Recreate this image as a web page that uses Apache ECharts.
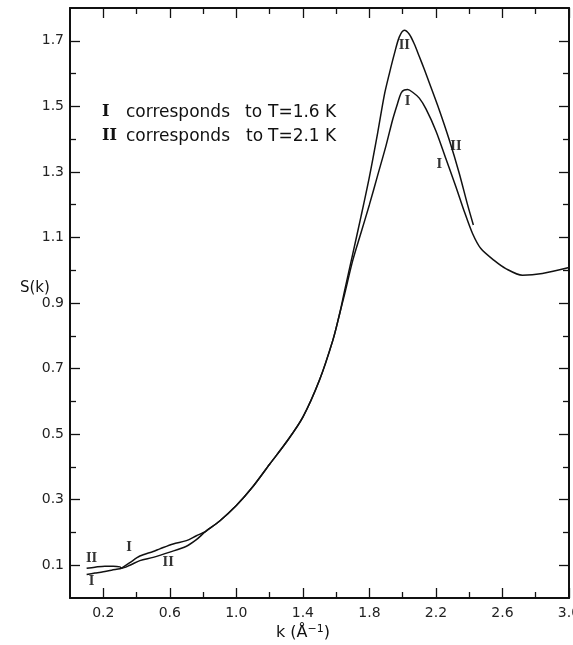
<!DOCTYPE html>
<html>
<head>
<meta charset="utf-8">
<script src="https://cdn.jsdelivr.net/npm/echarts@6/dist/echarts.min.js"></script>
<style>
  html, body { margin: 0; padding: 0; background: #fff; }
  #chart { width: 573px; height: 645px; }
</style>
</head>
<body>
<div id="chart"></div>
<script>
// curve I : T = 1.6 K
const kI = [0.10, 0.15, 0.20, 0.25, 0.30, 0.31, 0.36, 0.42, 0.50, 0.54, 0.62, 0.70, 0.76, 0.80,
  0.82, 0.90, 1.00, 1.10, 1.20, 1.30, 1.40, 1.50, 1.58, 1.62,
  1.65, 1.70, 1.75, 1.80, 1.85, 1.90, 1.94, 1.97, 1.99, 2.01, 2.03, 2.06, 2.10, 2.14, 2.20,
  2.26, 2.32, 2.37, 2.42, 2.47, 2.55, 2.62, 2.72, 2.84, 3.00];
const sI = [0.072, 0.076, 0.080, 0.085, 0.089, 0.091, 0.108, 0.128, 0.142, 0.150, 0.165, 0.175, 0.190, 0.199,
  0.205, 0.235, 0.282, 0.340, 0.408, 0.475, 0.552, 0.665, 0.786, 0.865,
  0.925, 1.030, 1.115, 1.200, 1.290, 1.380, 1.460, 1.510, 1.540, 1.550, 1.551, 1.543, 1.525, 1.492, 1.425,
  1.340, 1.255, 1.180, 1.112, 1.066, 1.030, 1.005, 0.985, 0.990, 1.008];

// curve II : T = 2.1 K
const kII = [0.10, 0.15, 0.21, 0.26, 0.30, 0.31, 0.36, 0.42, 0.50, 0.60, 0.70, 0.76, 0.80,
  0.82, 0.90, 1.00, 1.10, 1.20, 1.30, 1.40, 1.50, 1.58, 1.62,
  1.65, 1.70, 1.75, 1.80, 1.85, 1.89, 1.92, 1.95, 1.98, 2.01, 2.04, 2.07, 2.10, 2.13, 2.16,
  2.22, 2.28, 2.34, 2.39, 2.425];
const sII = [0.091, 0.094, 0.097, 0.097, 0.095, 0.091, 0.100, 0.114, 0.124, 0.140, 0.158, 0.178, 0.196,
  0.205, 0.235, 0.282, 0.340, 0.408, 0.475, 0.552, 0.665, 0.786, 0.865,
  0.935, 1.050, 1.165, 1.285, 1.420, 1.535, 1.600, 1.660, 1.712, 1.732, 1.720, 1.690, 1.652, 1.613, 1.572,
  1.489, 1.398, 1.296, 1.200, 1.138];

// tick values
const xTickLong = [0.2, 0.6, 1.0, 1.4, 1.8, 2.2, 2.6, 3.0];
const xTickShort = [0.4, 0.8, 1.2, 1.6, 2.0, 2.4, 2.8];
const yTickLong = [0.1, 0.3, 0.5, 0.7, 0.9, 1.1, 1.3, 1.5, 1.7];
const yTickShort = [0.2, 0.4, 0.6, 0.8, 1.0, 1.2, 1.4, 1.6];

// roman numeral labels on the curves
const curveNames = ['II', 'I', 'II', 'I', 'II', 'I', 'I', 'II'];
const curveNameK = [2.01, 2.03, 2.32, 2.22, 0.13, 0.13, 0.355, 0.59];
const curveNameS = [1.683, 1.515, 1.376, 1.321, 0.118, 0.050, 0.154, 0.108];

const ink = '#111';
const sans = 'DejaVu Sans';
const serif = 'DejaVu Serif';

function pairs(ks, ss) {
  return ks.map(function (k, i) { return [k, ss[i]]; });
}

function axis(kind, position, ticks, len, showLine, showLabel) {
  return {
    type: 'value',
    position: position,
    min: 0,
    max: kind === 'x' ? 3.0 : 1.8,
    axisLine: { show: showLine, onZero: false, lineStyle: { color: ink, width: 2 } },
    axisTick: { show: true, inside: true, length: len, customValues: ticks, lineStyle: { color: ink, width: 1.3 } },
    axisLabel: {
      show: showLabel,
      customValues: ticks,
      color: '#222',
      fontFamily: sans,
      fontSize: 14,
      margin: kind === 'x' ? 8 : 6,
      formatter: function (v) { return v.toFixed(1); }
    },
    splitLine: { show: false }
  };
}

const chart = echarts.init(document.getElementById('chart'));

const option = {
  animation: false,
  backgroundColor: '#fff',
  grid: { left: 70, right: 4, top: 8, bottom: 47, outerBoundsMode: 'none', containLabel: false },
  xAxis: [
    axis('x', 'bottom', xTickLong, 10, true, true),
    axis('x', 'bottom', xTickShort, 6, false, false),
    axis('x', 'top', xTickLong, 10, true, false),
    axis('x', 'top', xTickShort, 6, false, false)
  ],
  yAxis: [
    axis('y', 'left', yTickLong, 10, true, true),
    axis('y', 'left', yTickShort, 6, false, false),
    axis('y', 'right', yTickLong, 10, true, false),
    axis('y', 'right', yTickShort, 6, false, false)
  ],
  series: [
    {
      name: 'I',
      type: 'line',
      data: pairs(kI, sI),
      smooth: 0.3,
      symbol: 'none',
      lineStyle: { color: ink, width: 1.5 }
    },
    {
      name: 'II',
      type: 'line',
      data: pairs(kII, sII),
      smooth: 0.3,
      symbol: 'none',
      lineStyle: { color: ink, width: 1.5 }
    },
    {
      type: 'scatter',
      symbolSize: 0,
      data: curveNames.map(function (n, i) {
        return { name: n, value: [curveNameK[i], curveNameS[i]] };
      }),
      label: {
        show: true,
        position: 'inside',
        formatter: '{b}',
        color: '#000',
        fontFamily: serif,
        fontWeight: 'bold',
        fontSize: 12
      }
    }
  ],
  graphic: [
    { type: 'text', left: 102, top: 104, style: { text: 'I', font: 'bold 16px "DejaVu Serif"', fill: ink } },
    { type: 'text', left: 126, top: 104, style: { text: 'corresponds', font: '17px "DejaVu Sans"', fill: ink } },
    { type: 'text', left: 245, top: 104, style: { text: 'to', font: '17px "DejaVu Sans"', fill: ink } },
    { type: 'text', left: 268, top: 104, style: { text: 'T=1.6 K', font: '17px "DejaVu Sans"', fill: ink } },
    { type: 'text', left: 102, top: 128, style: { text: 'II', font: 'bold 16px "DejaVu Serif"', fill: ink } },
    { type: 'text', left: 126, top: 128, style: { text: 'corresponds', font: '17px "DejaVu Sans"', fill: ink } },
    { type: 'text', left: 246, top: 128, style: { text: 'to', font: '17px "DejaVu Sans"', fill: ink } },
    { type: 'text', left: 268, top: 128, style: { text: 'T=2.1 K', font: '17px "DejaVu Sans"', fill: ink } },
    { type: 'text', left: 20, top: 281, style: { text: 'S(k)', font: '15px "DejaVu Sans"', fill: ink } },
    {
      type: 'text', left: 276, top: 624,
      style: {
        text: '{n|k (Å}{s|−1}{n|)}',
        rich: {
          n: { font: '16px "DejaVu Sans"', fill: ink, verticalAlign: 'bottom' },
          s: { font: '11px "DejaVu Sans"', fill: ink, verticalAlign: 'top', padding: [0, 0, 6, 0] }
        }
      }
    }
  ]
};

chart.setOption(option);
</script>
</body>
</html>
